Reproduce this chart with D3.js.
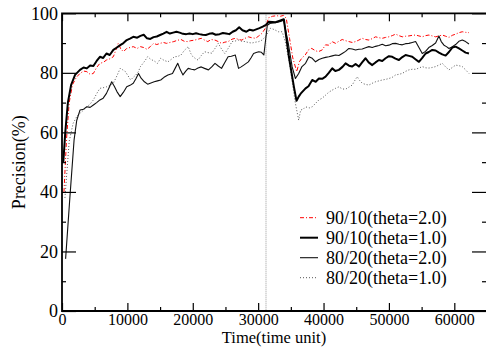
<!DOCTYPE html>
<html><head><meta charset="utf-8">
<script src="https://cdn.jsdelivr.net/npm/d3@7"></script>
<style>
html,body{margin:0;padding:0;background:#fff;}
svg{display:block;font-family:"Liberation Serif","Times New Roman",serif;}
</style></head>
<body><svg id="c" width="486" height="347"></svg>
<script>
// ---- data (time unit, precision %) ----
const xTicks = [0, 10000, 20000, 30000, 40000, 50000, 60000];
const xMinorTicks = [5000, 15000, 25000, 35000, 45000, 55000, 65000];
const yTicks = [0, 20, 40, 60, 80, 100];
const yMinorTicks = [10, 30, 50, 70, 90];
const seriesNames = ["90/10(theta=2.0)", "90/10(theta=1.0)", "80/20(theta=2.0)", "80/20(theta=1.0)"];
const markerTime = 31200;

const s90t2 = [[300,40],[700,58],[1100,70],[1600,76],[2200,78.5],[2750,79.8],[3300,80.6],[3800,80.4],[4300,79.5],[4800,79.8],[5300,81.8],[5800,83.2],[6300,83.5],[6800,84.3],[7300,84.7],[7850,85.4],[8300,88],[8600,89.9],[9000,88],[9400,87.1],[9900,88.2],[10400,88.5],[10900,88.8],[11500,88.2],[12000,88.8],[12500,88.5],[13000,87.9],[13500,88.8],[14000,89.9],[14500,89.5],[15000,89.9],[15500,90.2],[16000,89.9],[16500,90.2],[17100,90.5],[17600,90.9],[18200,91.2],[18700,90.6],[19200,90.5],[19700,90.8],[20300,91],[20800,91.3],[21300,91.6],[21800,91],[22300,90.5],[22800,91.2],[23400,91],[23900,90.5],[24400,89.9],[24900,90.3],[25400,90.5],[26000,91.3],[26500,91.6],[27000,91.2],[27500,91],[28000,91.6],[28500,92.1],[29000,91.8],[29600,91.6],[30100,92.4],[30600,93.3],[31100,95],[31600,98.5],[32200,99],[32800,99.2],[33400,99],[33900,99.3],[34300,98.3],[34800,91.6],[35300,85],[35900,80.4],[36300,83.7],[36700,85],[37200,86],[37700,87.7],[38200,88.2],[38700,87.5],[39200,87.1],[39800,87.7],[40300,89.4],[40800,89.3],[41300,90.5],[41840,89.9],[42350,90.6],[42860,91.2],[43370,90.8],[43880,90.5],[44390,90.2],[44900,90.5],[45400,91],[45920,91.6],[46430,91.2],[46940,91],[47450,91.5],[47960,92.1],[48470,91.8],[48980,91.6],[49490,91.9],[50000,92.1],[50510,92.5],[51020,93],[51530,92.5],[52040,92.1],[52550,92.3],[53060,92.4],[53570,92.6],[54080,92.7],[54590,92.4],[55100,92.1],[55610,92.5],[56120,92.7],[56630,92.4],[57140,92.1],[57650,92.4],[58160,92.7],[58670,92.3],[59180,91.9],[59690,92.6],[60200,93],[60710,93.5],[61220,93.8],[61730,93.6],[62240,93.5]];

const s90t1 = [[200,50],[500,60],[900,70],[1400,76],[2000,79.3],[2750,81],[3300,81.8],[3800,81.5],[4300,82.5],[4800,82.3],[5300,84],[5800,85.4],[6300,85],[6800,86.5],[7300,86],[7850,87.7],[8400,88.5],[8900,89.3],[9400,90],[9900,91],[10400,91.5],[10900,92.1],[11500,91.8],[12000,92.4],[12500,92.8],[13000,91.6],[13500,91.4],[14000,92],[14500,92.2],[15000,92.7],[15500,93.2],[16000,93.8],[16500,93.2],[17000,93.5],[17500,93.8],[18000,93.5],[18500,93.1],[19000,93],[19500,93.2],[20000,93],[20500,93.3],[21000,93],[21500,92.8],[22000,92.7],[22500,93.1],[23000,93.3],[23500,92.8],[24100,93],[24600,93.4],[25100,93.2],[25600,93],[26100,93.8],[26600,94.3],[27100,95.3],[27600,94.3],[28200,93.8],[28700,94.5],[29200,94.2],[29700,94.6],[30200,95],[30700,95.5],[31200,96.1],[31640,97.2],[32660,97],[33300,97.5],[33930,98],[34700,85.4],[35470,75.3],[35870,70.6],[36200,72],[36500,73],[37250,74.8],[37700,75.5],[38270,77.6],[38800,77],[39290,78.1],[39800,78],[40310,78.7],[40800,80],[41330,81.5],[41800,80.6],[42350,81],[42900,82],[43370,83.2],[43900,82.4],[44390,82.1],[44900,83],[45410,82.1],[45900,83.5],[46430,84.9],[46900,83.5],[47450,82.6],[47950,83.5],[48470,84.3],[48980,84],[49490,84.9],[50000,85.6],[50510,85.4],[51000,84.8],[51530,84.3],[52000,85.2],[52550,86],[53060,85.7],[53570,85.4],[54100,84.5],[54590,83.7],[55100,85],[55610,86.5],[56100,87],[56630,87.7],[57140,87.5],[57650,86.8],[58160,86.2],[58670,85.8],[59180,87],[59690,88.5],[60200,88.8],[60710,88.2],[61220,87.5],[61730,86.8],[62240,86.5]];

const s80t2 = [[550,17.5],[1200,38],[1850,57.5],[2250,64],[2750,67.5],[3300,67.8],[3800,68.6],[4300,68.4],[4800,69.2],[5300,70],[5800,70.9],[6300,71.5],[6800,73.1],[7200,75],[7600,77],[8000,75.5],[8400,73.7],[8900,72],[9400,73.5],[9900,75.3],[10400,75.8],[10900,76.5],[11300,78],[11700,79.8],[12100,78.2],[12600,77],[13100,76.2],[13600,76.6],[14100,77],[14600,77.3],[15100,77.6],[15600,78.5],[16200,79.3],[16900,79.8],[17300,81.5],[17700,83.2],[18100,81],[18500,79.3],[18900,80.5],[19300,81.5],[19800,81.2],[20300,81],[20800,81.6],[21300,82],[21800,81.5],[22400,81],[22900,82],[23400,83.2],[23900,82.3],[24400,81.5],[24900,83.5],[25400,85.4],[25900,85.6],[26500,86],[27000,81.5],[27400,82],[27800,82.6],[28500,83.7],[28900,85],[29300,86.5],[29700,86.8],[30100,87.1],[30500,86.9],[30870,86],[31400,96],[31800,96.6],[32600,96.8],[33300,97.2],[33900,97.7],[34600,90],[35200,82],[35700,78.1],[36200,79.8],[36700,82.1],[37250,83.2],[37760,85.4],[38270,84.9],[38780,83.7],[39300,84.5],[39800,84.9],[40300,85.2],[40820,85.4],[41330,85.7],[41840,86],[42350,85.8],[42860,86.5],[43370,87.2],[43880,88.2],[44390,88],[44900,87.7],[45400,87.9],[45920,88],[46430,88.4],[46940,88.8],[47450,88.5],[47960,88.9],[48470,89.2],[48980,89.6],[49490,89.1],[50000,89.3],[50510,89.8],[51020,89.9],[51530,89.6],[52040,89.4],[52550,89.8],[53060,89.9],[53570,90.2],[54080,90.5],[54590,88.5],[55100,86.5],[55600,87.2],[56100,88.5],[56630,89.2],[57140,90],[57650,92.4],[58000,90.5],[58420,89.3],[58800,88.8],[59180,88.2],[59700,88.8],[60200,89.5],[60700,90.6],[61220,91],[61730,90.5],[62240,89.7]];

const s80t1 = [[450,38],[1100,57],[1700,63],[2300,65.5],[2750,66.4],[3300,67.5],[3800,68.6],[4300,69.5],[4800,70.9],[5300,73],[5800,74.8],[6300,75],[6800,75.3],[7300,75.8],[7850,76.5],[8400,79],[8900,81.5],[9300,81],[9700,80.4],[10100,79],[10500,77.6],[10900,78.5],[11300,79.3],[11700,80.5],[12000,82.1],[12600,83.8],[13100,85.4],[13600,84.5],[14100,84],[14600,83.2],[15100,84.9],[15600,84.2],[16200,83.7],[16700,84.5],[17200,85.4],[17700,85.5],[18200,86],[18700,87.5],[19300,88.8],[19700,86.5],[20000,85.5],[20400,84.8],[20800,84.3],[21300,85.8],[21800,87.1],[22300,86.8],[22900,86.6],[23400,88.2],[23900,89.9],[24400,88],[24900,86.5],[25500,88.5],[26000,90.5],[26500,90.7],[27000,91],[27500,90.6],[28000,90.5],[28500,90.2],[29000,90],[29600,90.3],[30100,90.5],[30600,91],[31100,92.1],[31900,95],[32500,94.5],[33100,93.8],[33680,93.8],[34200,90],[34700,84.3],[35200,77],[35700,69.7],[36200,64.1],[36500,67.5],[36900,67.8],[37250,68.6],[37800,68.2],[38270,68.6],[38800,69.8],[39290,70.9],[39800,71.5],[40310,72.5],[40800,73.5],[41330,74.2],[41840,74.8],[42350,75.3],[42860,74.6],[43370,74.5],[43880,75.2],[44390,75.9],[44800,77.5],[45150,78.7],[45500,77.5],[45920,76.5],[46430,76.1],[46940,75.9],[47450,76.5],[47960,77],[48470,77.3],[48980,77.6],[49490,77.8],[50000,78.1],[50510,78.5],[51020,79.3],[51530,79.5],[52040,79.8],[52550,80.5],[53060,81],[53570,81.2],[54080,81.2],[54590,81.6],[55100,82.1],[55610,81.7],[56120,81.6],[56630,81.8],[57140,82.1],[57650,82.6],[58160,83.2],[58670,82],[59180,81],[59690,81.8],[60200,82.6],[60710,82.4],[61220,82.1],[61730,81],[62240,79.8]];

// ---- layout ----
const L = 62, R = 487, T = 13.3, B = 311;
const svg = d3.select("#c");
const x = d3.scaleLinear().domain([0, 65000]).range([L, R]);
const y = d3.scaleLinear().domain([0, 100]).range([B, T]);

const styles = [
  {data: s90t2, color: "#ff0000", width: 1, dash: "4,2,1,2"},
  {data: s90t1, color: "#000000", width: 2, dash: null},
  {data: s80t2, color: "#111111", width: 1.1, dash: null},
  {data: s80t1, color: "#555555", width: 1, dash: "1,2"}
];

// marker vertical dotted line
svg.append("line").attr("x1", x(markerTime)).attr("x2", x(markerTime))
  .attr("y1", y(100)).attr("y2", y(0))
  .attr("stroke", "#999").attr("stroke-width", 1).attr("stroke-dasharray", "1,1");

const line = d3.line().x(d => x(d[0])).y(d => y(d[1]));
[3, 2, 0, 1].forEach(i => {
  const s = styles[i];
  svg.append("path").datum(s.data).attr("d", line)
    .attr("fill", "none").attr("stroke", s.color).attr("stroke-width", s.width)
    .attr("stroke-linejoin", "round")
    .attr("stroke-dasharray", s.dash);
});

// axes
function styleAxis(g) {
  g.select(".domain").remove();
  g.selectAll(".tick line").attr("stroke", "#000").attr("stroke-width", 1.2);
  g.selectAll("text").attr("fill", "#000").attr("font-family", "Liberation Serif, Times New Roman, serif");
}
const gB = svg.append("g").attr("transform", `translate(0,${B})`)
  .call(d3.axisBottom(x).tickValues(xTicks).tickSize(-8).tickPadding(4).tickFormat(d3.format("d")));
styleAxis(gB);
gB.selectAll("text").attr("font-size", 16).attr("dy", null).attr("y", 14);
const gBm = svg.append("g").attr("transform", `translate(0,${B})`)
  .call(d3.axisBottom(x).tickValues(xMinorTicks).tickSize(-4).tickFormat(""));
styleAxis(gBm);
const gT = svg.append("g").attr("transform", `translate(0,${T})`)
  .call(d3.axisTop(x).tickValues(xTicks).tickSize(-8).tickFormat(""));
styleAxis(gT);
const gTm = svg.append("g").attr("transform", `translate(0,${T})`)
  .call(d3.axisTop(x).tickValues(xMinorTicks).tickSize(-4).tickFormat(""));
styleAxis(gTm);
const gL = svg.append("g").attr("transform", `translate(${L},0)`)
  .call(d3.axisLeft(y).tickValues(yTicks).tickSize(-14).tickPadding(4).tickFormat(d3.format("d")));
styleAxis(gL); gL.selectAll("text").attr("font-size", 18);
const gLm = svg.append("g").attr("transform", `translate(${L},0)`)
  .call(d3.axisLeft(y).tickValues(yMinorTicks).tickSize(-4).tickFormat(""));
styleAxis(gLm);
const gR = svg.append("g").attr("transform", `translate(${R - 1},0)`)
  .call(d3.axisRight(y).tickValues(yTicks).tickSize(-14).tickFormat(""));
styleAxis(gR);
const gRm = svg.append("g").attr("transform", `translate(${R - 1},0)`)
  .call(d3.axisRight(y).tickValues(yMinorTicks).tickSize(-4).tickFormat(""));
styleAxis(gRm);

// frame
svg.append("path").attr("d", `M${R},${T}H${L}V${B}H${R}`)
  .attr("fill", "none").attr("stroke", "#000").attr("stroke-width", 1.8);

// axis titles
svg.append("text").attr("x", (L + 486) / 2).attr("y", 342.8).attr("text-anchor", "middle")
  .attr("font-size", 16.5).text("Time(time unit)");
svg.append("text").attr("transform", `translate(25,${(T + B) / 2}) rotate(-90)`)
  .attr("text-anchor", "middle").attr("font-size", 18).text("Precision(%)");

// legend
const lg = svg.append("g");
styles.forEach((s, i) => {
  const yy = 217.7 + i * 20;
  lg.append("line").attr("x1", 300).attr("x2", 318).attr("y1", yy).attr("y2", yy)
    .attr("stroke", s.color).attr("stroke-width", s.width).attr("stroke-dasharray", s.dash);
  lg.append("text").attr("x", 326).attr("y", yy + 5.8).attr("font-size", 18).text(seriesNames[i]);
});
</script></body></html>
